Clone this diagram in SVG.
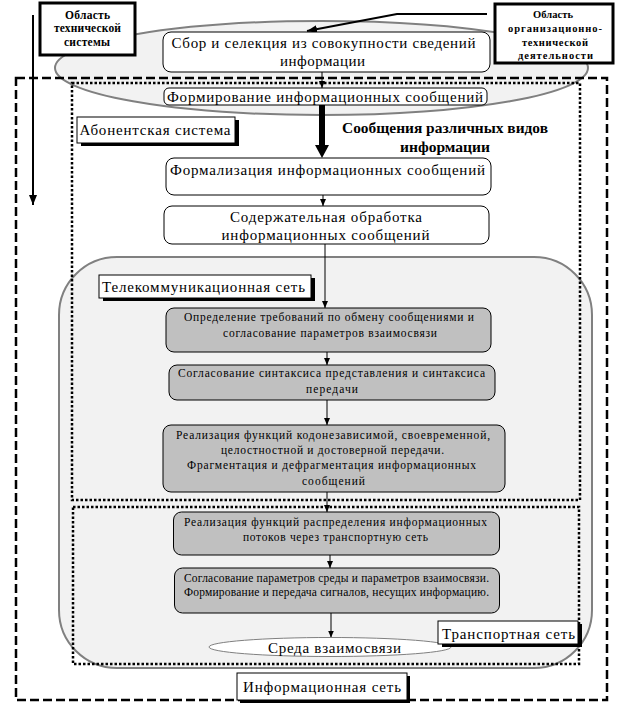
<svg xmlns="http://www.w3.org/2000/svg" width="623" height="722" viewBox="0 0 623 722">
<style>
text{font-family:"Liberation Serif","Times New Roman",serif;fill:#000}
.t15{font-size:15px}
.t11{font-size:11.5px}
.b{font-weight:bold}
.wbox{fill:#fff;stroke:#000;stroke-width:1}
.gbox{fill:#c0c0c0;stroke:#000;stroke-width:1}
.lbl{fill:#fff;stroke:#000;stroke-width:1}
.shadow{fill:#000}
.area{fill:#f2f2f2;stroke:#808080;stroke-width:2}
.dash{fill:none;stroke:#000;stroke-width:2.5;stroke-dasharray:9 4}
.dot{fill:none;stroke:#000;stroke-width:2.5;stroke-dasharray:2.5 2}
.thin{fill:none;stroke:#000;stroke-width:1}
</style>
<defs>
<marker id="ah" viewBox="0 0 10 10" refX="10" refY="5" markerWidth="7" markerHeight="6" markerUnits="userSpaceOnUse" orient="auto" preserveAspectRatio="none"><path d="M0,0 L10,5 L0,10 z" fill="#000"/></marker>
<marker id="ahb" viewBox="0 0 10 10" refX="10" refY="5" markerWidth="10" markerHeight="8" markerUnits="userSpaceOnUse" orient="auto" preserveAspectRatio="none"><path d="M0,0 L10,5 L0,10 z" fill="#000"/></marker>
</defs>

<g id="background">
<ellipse cx="321.5" cy="68" rx="266.5" ry="47" class="area"/>
<rect x="59" y="257" width="533" height="411" rx="58" ry="58" class="area"/>
</g>

<g id="informacionnaya-set-boundary"><rect x="16" y="78" width="591" height="622" class="dash"/></g>
<g id="abonentskaya-sistema-boundary"><rect x="72" y="83" width="508" height="417" class="dot"/></g>
<g id="transportnaya-set-boundary"><rect x="73" y="507" width="506" height="157" class="dot"/></g>

<g id="connectors">
<line x1="33" y1="15" x2="33" y2="205" stroke="#000" stroke-width="2" marker-end="url(#ahb)"/>
<polyline points="487,14 397,14 307,31" fill="none" stroke="#000" stroke-width="2" marker-end="url(#ahb)"/>
<line x1="322" y1="72" x2="322" y2="88" class="thin" marker-end="url(#ah)"/>
<line x1="322" y1="105" x2="322" y2="146" stroke="#000" stroke-width="6"/>
<polygon points="315,145 329,145 322,158" fill="#000"/>
<line x1="323" y1="195" x2="323" y2="206" class="thin" marker-end="url(#ah)"/>
<line x1="325" y1="244" x2="325" y2="308" class="thin" marker-end="url(#ah)"/>
<line x1="327" y1="352" x2="327" y2="365" class="thin" marker-end="url(#ah)"/>
<line x1="327" y1="400" x2="327" y2="425" class="thin" marker-end="url(#ah)"/>
<line x1="327" y1="492" x2="327" y2="512" class="thin" marker-end="url(#ah)"/>
<line x1="330" y1="555" x2="330" y2="568" class="thin" marker-end="url(#ah)"/>
<line x1="331" y1="613" x2="331" y2="637.5" class="thin" marker-end="url(#ah)"/>
</g>

<g id="oblast-tech">
<rect x="40" y="3" width="95" height="52" fill="#fff" stroke="#000" stroke-width="3"/>
<text class="b" font-size="11.5" x="65" y="19" textLength="45" lengthAdjust="spacing">Область</text>
<text class="b" font-size="11.5" x="54" y="32" textLength="67" lengthAdjust="spacing">технической</text>
<text class="b" font-size="11.5" x="64" y="46" textLength="46" lengthAdjust="spacing">системы</text>
</g>

<g id="oblast-org">
<rect x="495" y="4" width="118" height="59" fill="#fff" stroke="#000" stroke-width="3"/>
<text class="b" font-size="10.5" x="533" y="18" textLength="40" lengthAdjust="spacing">Область</text>
<text class="b" font-size="10.5" x="508" y="32" textLength="94" lengthAdjust="spacing">организационно-</text>
<text class="b" font-size="10.5" x="522" y="46" textLength="66" lengthAdjust="spacing">технической</text>
<text class="b" font-size="10.5" x="518" y="59" textLength="75" lengthAdjust="spacing">деятельности</text>
</g>

<g id="sbor">
<rect x="163" y="32" width="327" height="40" rx="8" class="wbox"/>
<text class="t15" x="171.5" y="48" textLength="304" lengthAdjust="spacing">Сбор и селекция из совокупности сведений</text>
<text class="t15" x="280" y="65.5" textLength="85" lengthAdjust="spacing">информации</text>
</g>

<g id="formirovanie">
<rect x="164" y="88" width="323" height="17" rx="5" class="wbox"/>
<text class="t15" x="167" y="101.5" textLength="316" lengthAdjust="spacing">Формирование информационных сообщений</text>
</g>

<g id="label-abonent">
<rect x="81" y="120" width="158" height="26" class="shadow"/>
<rect x="77" y="117" width="158" height="26" class="lbl"/>
<text class="t15" x="79.5" y="134.5" textLength="151" lengthAdjust="spacing">Абонентская система</text>
</g>

<g id="soobscheniya-label">
<text class="b" font-size="15" x="342" y="133" textLength="206" lengthAdjust="spacingAndGlyphs">Сообщения различных видов</text>
<text class="b" font-size="15" x="400" y="152" textLength="90" lengthAdjust="spacingAndGlyphs">информации</text>
</g>

<g id="formalizaciya">
<rect x="166" y="158" width="325" height="37" rx="8" class="wbox"/>
<text class="t15" x="170" y="175" textLength="315" lengthAdjust="spacing">Формализация информационных сообщений</text>
</g>

<g id="soderzhatelnaya">
<rect x="164" y="206" width="325" height="38" rx="8" class="wbox"/>
<text class="t15" x="230" y="222" textLength="192" lengthAdjust="spacing">Содержательная обработка</text>
<text class="t15" x="221.5" y="240" textLength="208" lengthAdjust="spacing">информационных сообщений</text>
</g>

<g id="label-telecom">
<rect x="103" y="278" width="212" height="23" class="shadow"/>
<rect x="99" y="275" width="212" height="23" class="lbl"/>
<text class="t15" x="102" y="292" textLength="203" lengthAdjust="spacing">Телекоммуникационная сеть</text>
</g>

<g id="opredelenie">
<rect x="166" y="308" width="325" height="44" rx="8" class="gbox"/>
<text class="t11" x="184" y="320.5" textLength="290" lengthAdjust="spacing">Определение требований по обмену сообщениями и</text>
<text class="t11" x="223" y="337" textLength="214" lengthAdjust="spacing">согласование параметров взаимосвязи</text>
</g>

<g id="soglasovanie-sintaksisa">
<rect x="169" y="365" width="326" height="35" rx="8" class="gbox"/>
<text class="t11" x="178" y="377" textLength="307" lengthAdjust="spacing">Согласование синтаксиса представления и синтаксиса</text>
<text class="t11" x="306" y="393" textLength="52" lengthAdjust="spacing">передачи</text>
</g>

<g id="realizaciya-kodonezavisimoy">
<rect x="163" y="425" width="342" height="67" rx="8" class="gbox"/>
<text class="t11" x="176" y="439" textLength="314" lengthAdjust="spacing">Реализация функций кодонезависимой, своевременной,</text>
<text class="t11" x="221" y="453.5" textLength="223" lengthAdjust="spacing">целостностной и достоверной передачи.</text>
<text class="t11" x="187" y="469" textLength="289" lengthAdjust="spacing">Фрагментация и дефрагментация информационных</text>
<text class="t11" x="302" y="484.5" textLength="63" lengthAdjust="spacing">сообщений</text>
</g>

<g id="realizaciya-raspredeleniya">
<rect x="173.5" y="512" width="326" height="43" rx="8" class="gbox"/>
<text class="t11" x="184" y="525.5" textLength="303" lengthAdjust="spacing">Реализация функций распределения информационных</text>
<text class="t11" x="243" y="540.5" textLength="185" lengthAdjust="spacing">потоков через транспортную сеть</text>
</g>

<g id="soglasovanie-sredy">
<rect x="174.5" y="568" width="325" height="45" rx="8" class="gbox"/>
<text class="t11" x="184" y="582" textLength="305" lengthAdjust="spacing">Согласование параметров среды и параметров взаимосвязи.</text>
<text class="t11" x="184" y="595.5" textLength="305" lengthAdjust="spacing">Формирование и передача сигналов, несущих информацию.</text>
</g>

<g id="sreda">
<ellipse cx="330" cy="647" rx="121" ry="9.5" fill="#fff" stroke="#808080" stroke-width="1"/>
<text class="t15" x="268" y="653" textLength="133" lengthAdjust="spacing">Среда взаимосвязи</text>
</g>

<g id="label-transport">
<rect x="442" y="624" width="140" height="23" class="shadow"/>
<rect x="438" y="621" width="140" height="23" class="lbl"/>
<text class="t15" x="442" y="638.5" textLength="133" lengthAdjust="spacing">Транспортная сеть</text>
</g>

<g id="label-informacionnaya">
<rect x="240" y="676" width="170" height="27" class="shadow"/>
<rect x="237" y="673" width="170" height="27" class="lbl"/>
<text class="t15" x="243" y="692" textLength="158" lengthAdjust="spacing">Информационная сеть</text>
</g>
</svg>
